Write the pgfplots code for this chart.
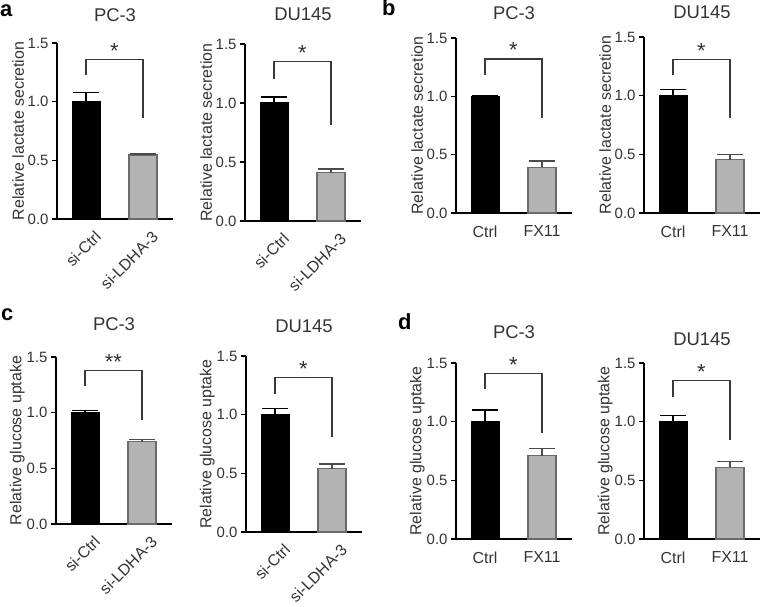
\documentclass[border=0pt]{standalone}
\usepackage{fontspec}
\setmainfont{Liberation Sans}
\usepackage{pgfplots}
\pgfplotsset{compat=1.18}

\definecolor{barGray}{HTML}{B3B3B3}
\definecolor{barEdge}{HTML}{6B6B6B}
\definecolor{txt}{HTML}{333333}
\definecolor{brk}{HTML}{3A3A3A}

\pgfplotsset{
  panel/.style={
    anchor=south west, scale only axis, width=116bp,
    xmin=0, xmax=116, ymin=0, ymax=1.5, enlargelimits=false, clip=false,
    axis lines*=left, axis line style={-, line width=1.8bp, black},
    ybar, bar width=28, bar shift=0pt,
    xtick={29,86}, xtick style={draw=none},
    ytick={0,0.5,1,1.5}, yticklabels={0.0,0.5,1.0,1.5},
    ytick style={line width=1.5bp, black}, tick align=outside, major tick length=5bp,
    tick label style={font=\fontsize{15}{18}\selectfont, text=txt},
    xticklabel style={font=\fontsize{16}{18}\selectfont},
    ylabel style={at={(axis description cs:-0.335,0.5)}, anchor=center, rotate=0,
      font=\fontsize{16}{18}\selectfont, text=txt},
    title style={at={(0.5,1)}, anchor=center, font=\fontsize{18.5}{20}\selectfont, text=txt},
  },
  flatlab/.style={xticklabel style={yshift=-4bp}},
  rotlab/.style={xticklabel style={xshift=8bp, yshift=-6bp, rotate=45, anchor=north east, inner sep=0pt}},
  blackbar/.style={fill=black, draw=black, line width=1bp,
    error bars/.cd, y dir=plus, y explicit,
    error bar style={line width=1.3bp, black},
    error mark options={rotate=90, line width=1.3bp, black, mark size=13bp}},
  graybar/.style={fill=barGray, draw=barEdge, line width=1.2bp,
    error bars/.cd, y dir=plus, y explicit,
    error bar style={line width=1.3bp, barEdge!70!black},
    error mark options={rotate=90, line width=1.3bp, barEdge!70!black, mark size=13bp}},
}

% top of bracket, left leg end, right leg end, stars
\newcommand{\bracket}[4]{%
  \draw[brk, line width=1.1bp] (axis cs:29,#2) |- (axis cs:86,#1) -- (axis cs:86,#3);
  \node[anchor=base, inner sep=0pt, text=txt, font=\fontsize{22}{24}\selectfont]
    at ([yshift=1bp]axis cs:57.5,#1) {#4};}

\begin{document}
\begin{tikzpicture}
\useasboundingbox (0,0) rectangle (761bp,607bp);

\node[anchor=base west, inner sep=0pt, font=\bfseries\fontsize{22}{24}\selectfont] at (0bp,590bp) {a};
\node[anchor=base west, inner sep=0pt, font=\bfseries\fontsize{22}{24}\selectfont] at (382bp,591bp) {b};
\node[anchor=base west, inner sep=0pt, font=\bfseries\fontsize{22}{24}\selectfont] at (1bp,286bp) {c};
\node[anchor=base west, inner sep=0pt, font=\bfseries\fontsize{22}{24}\selectfont] at (398bp,277bp) {d};

% a
\begin{axis}[panel, rotlab, at={(57bp,388bp)}, height=176bp,
  title={PC-3}, title style={yshift=22bp},
  ylabel={Relative lactate secretion}, xticklabels={si-Ctrl,si-LDHA-3}]
\addplot[blackbar] coordinates {(29,1.0) +- (0,0.08)};
\addplot[graybar] coordinates {(86,0.545) +- (0,0.01)};
\bracket{1.36}{1.23}{0.86}{*}
\end{axis}

\begin{axis}[panel, rotlab, at={(245bp,386bp)}, height=177bp,
  title={DU145}, title style={yshift=24bp},
  ylabel={Relative lactate secretion}, xticklabels={si-Ctrl,si-LDHA-3}]
\addplot[blackbar] coordinates {(29,1.0) +- (0,0.05)};
\addplot[graybar] coordinates {(86,0.41) +- (0,0.03)};
\bracket{1.35}{1.2}{0.81}{*}
\end{axis}

% b
\begin{axis}[panel, flatlab, at={(456bp,394bp)}, height=175bp,
  title={PC-3}, title style={yshift=19bp},
  ylabel={Relative lactate secretion}, xticklabels={Ctrl,FX11}]
\addplot[blackbar] coordinates {(29,1.0) +- (0,0.005)};
\addplot[graybar] coordinates {(86,0.39) +- (0,0.055)};
\bracket{1.32}{1.18}{0.81}{*}
\end{axis}

\begin{axis}[panel, flatlab, at={(644bp,394bp)}, height=176bp,
  title={DU145}, title style={yshift=19bp},
  ylabel={Relative lactate secretion}, xticklabels={Ctrl,FX11}]
\addplot[blackbar] coordinates {(29,1.0) +- (0,0.05)};
\addplot[graybar] coordinates {(86,0.455) +- (0,0.045)};
\bracket{1.31}{1.18}{0.81}{*}
\end{axis}

% c
\begin{axis}[panel, rotlab, at={(56bp,83bp)}, height=167bp,
  title={PC-3}, title style={yshift=27bp},
  ylabel={Relative glucose uptake}, xticklabels={si-Ctrl,si-LDHA-3}]
\addplot[blackbar] coordinates {(29,1.0) +- (0,0.02)};
\addplot[graybar] coordinates {(86,0.74) +- (0,0.02)};
\bracket{1.38}{1.24}{0.93}{**}
\end{axis}

\begin{axis}[panel, rotlab, at={(246bp,75bp)}, height=176bp,
  title={DU145}, title style={yshift=24bp},
  ylabel={Relative glucose uptake}, xticklabels={si-Ctrl,si-LDHA-3}]
\addplot[blackbar] coordinates {(29,1.0) +- (0,0.05)};
\addplot[graybar] coordinates {(86,0.54) +- (0,0.04)};
\bracket{1.32}{1.18}{0.81}{*}
\end{axis}

% d
\begin{axis}[panel, flatlab, at={(456bp,68bp)}, height=176bp,
  title={PC-3}, title style={yshift=25bp},
  ylabel={Relative glucose uptake}, xticklabels={Ctrl,FX11}]
\addplot[blackbar] coordinates {(29,1.0) +- (0,0.1)};
\addplot[graybar] coordinates {(86,0.71) +- (0,0.06)};
\bracket{1.41}{1.28}{0.90}{*}
\end{axis}

\begin{axis}[panel, flatlab, at={(644bp,68bp)}, height=176bp,
  title={DU145}, title style={yshift=18bp},
  ylabel={Relative glucose uptake}, xticklabels={Ctrl,FX11}]
\addplot[blackbar] coordinates {(29,1.0) +- (0,0.05)};
\addplot[graybar] coordinates {(86,0.61) +- (0,0.05)};
\bracket{1.35}{1.21}{0.84}{*}
\end{axis}
\end{tikzpicture}
\end{document}
